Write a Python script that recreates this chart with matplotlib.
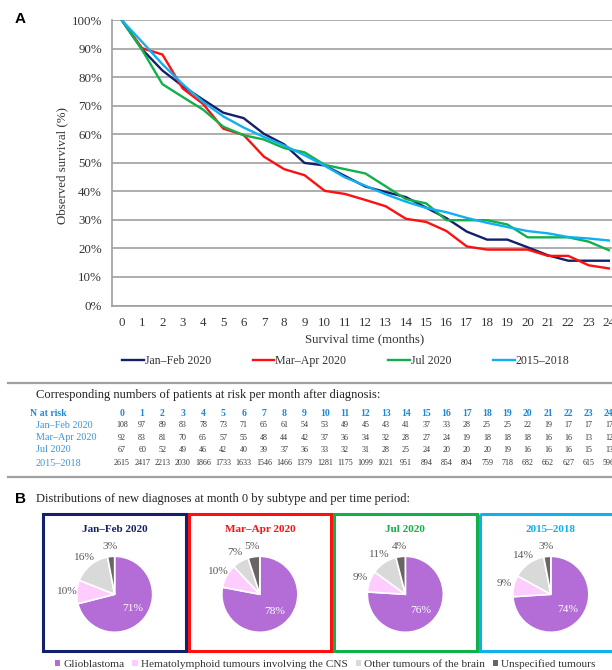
import math
import matplotlib
matplotlib.use('Agg')
import matplotlib.pyplot as plt
from matplotlib import transforms
from matplotlib.patches import Rectangle, Patch

# ---------------- data ----------------
months = list(range(25))
periods = ['Jan\u2013Feb 2020', 'Mar\u2013Apr 2020', 'Jul 2020', '2015\u20132018']

surv_jan_feb = [100, 89.8, 82.4, 76.9, 72.2, 67.6, 65.7, 60.2, 56.5, 50.0, 49.1, 45.4, 41.7,
                39.8, 38.0, 34.3, 30.6, 25.9, 23.1, 23.1, 20.4, 17.6, 15.7, 15.7, 15.7]
surv_mar_apr = [100, 90.2, 88.0, 76.1, 70.7, 62.0, 59.8, 52.2, 47.8, 45.7, 40.2, 39.1, 37.0,
                34.8, 30.4, 29.3, 26.1, 20.7, 19.6, 19.6, 19.6, 17.4, 17.4, 14.1, 13.0]
surv_jul = [100, 89.6, 77.6, 73.1, 68.7, 62.7, 59.7, 58.2, 55.2, 53.7, 49.3, 47.8, 46.3,
            41.8, 37.3, 35.8, 29.9, 29.9, 29.9, 28.4, 23.9, 23.9, 23.9, 22.4, 19.4]
surv_ref = [100, 92.4, 84.6, 77.6, 71.4, 66.3, 62.4, 59.1, 56.1, 52.7, 49.0, 44.9, 42.0,
            39.0, 36.4, 34.2, 32.7, 30.7, 29.0, 27.5, 26.1, 25.3, 24.0, 23.5, 22.8]

risk_jan_feb = [108, 97, 89, 83, 78, 73, 71, 65, 61, 54, 53, 49, 45, 43, 41, 37, 33, 28, 25, 25, 22, 19, 17, 17, 17]
risk_mar_apr = [92, 83, 81, 70, 65, 57, 55, 48, 44, 42, 37, 36, 34, 32, 28, 27, 24, 19, 18, 18, 18, 16, 16, 13, 12]
risk_jul = [67, 60, 52, 49, 46, 42, 40, 39, 37, 36, 33, 32, 31, 28, 25, 24, 20, 20, 20, 19, 16, 16, 16, 15, 13]
risk_ref = [2615, 2417, 2213, 2030, 1866, 1733, 1633, 1546, 1466, 1379, 1281, 1175, 1099, 1021, 951,
            894, 854, 804, 759, 718, 682, 662, 627, 615, 596]

subtypes = ['Glioblastoma', 'Hematolymphoid tumours involving the CNS',
            'Other tumours of the brain', 'Unspecified tumours']
dist_jan_feb = [71, 10, 16, 3]
dist_mar_apr = [78, 10, 7, 5]
dist_jul = [76, 9, 11, 4]
dist_ref = [74, 9, 14, 3]

# ---------------- style ----------------
period_colors = ['#14206b', '#ff1010', '#10b04a', '#10b0f0']
subtype_colors = ['#b46dd6', '#ffccff', '#d9d9d9', '#6b6464']
GRID = '#a0a0a0'
TXT = '#333333'
BLUE_H = '#1a8ad8'
BLUE_L = '#3a96dc'

W, H = 612, 670
plt.rcParams['font.family'] = ['Liberation Serif', 'DejaVu Serif']
fig = plt.figure(figsize=(W / 100, H / 100), dpi=100)


def rect(l, t, r, b):
    return [l / W, 1 - b / H, (r - l) / W, (b - t) / H]


# overlay in pixel coordinates for free text / frames
ov = fig.add_axes([0, 0, 1, 1])
ov.set_xlim(0, W)
ov.set_ylim(H, 0)
ov.axis('off')

# ---------------- panel A ----------------
ax = fig.add_axes(rect(111.7, 20.3, 619, 305.5))
series = [surv_jan_feb, surv_mar_apr, surv_jul, surv_ref]
handles = []
for s, c, lab in zip(series, period_colors, periods):
    h, = ax.plot(months, [v / 100 for v in s], color=c, lw=1.7, label=lab, solid_joinstyle='round')
    handles.append(h)
ax.set_xlim(-0.5, 24.5)
ax.set_ylim(0, 1)
ax.set_xticks(months)
ax.set_xticklabels([str(m) for m in months])
yt = [i / 10 for i in range(11)]
ax.set_yticks(yt)
ax.set_yticklabels([f'{int(round(v * 100))}%' for v in yt])
ax.yaxis.grid(True, color=GRID, lw=1.2)
ax.set_axisbelow(True)
for sp in ['top', 'right']:
    ax.spines[sp].set_visible(False)
for sp in ['left', 'bottom']:
    ax.spines[sp].set_color(GRID)
    ax.spines[sp].set_linewidth(1.2)
ax.tick_params(axis='y', length=0, pad=7, labelsize=9.3, labelcolor=TXT)
ax.tick_params(axis='x', length=0, pad=8, labelsize=9.3, labelcolor=TXT)

ov.text(62.5, 165, 'Observed survival (%)', rotation=90, ha='center', va='center', fontsize=9.3, color=TXT)
ov.text(365, 339, 'Survival time (months)', ha='center', va='center', fontsize=9.3, color=TXT)
ov.text(15, 19, 'A', ha='left', va='center', fontsize=11, fontweight='bold',
        family=['Liberation Sans', 'DejaVu Sans'])

fig.legend(handles=handles, loc='center left', bbox_to_anchor=(122 / W, 1 - 361 / H),
           ncol=4, frameon=False, fontsize=8.6, handlelength=1.8, handletextpad=0.1,
           columnspacing=3.5, borderpad=0, borderaxespad=0, labelcolor=TXT)

# ---------------- risk table ----------------
ov.plot([8, 612], [383, 383], color=GRID, lw=1.6)
ov.plot([8, 612], [477, 477], color=GRID, lw=1.6)
ov.text(36, 395, 'Corresponding numbers of patients at risk per month after diagnosis:',
        ha='left', va='center', fontsize=9, color='#222222')

trans = transforms.blended_transform_factory(ax.transData, ov.transData)
ov.text(30, 413, 'N at risk', ha='left', va='center', fontsize=7, fontweight='bold', color=BLUE_H)
for m in months:
    ov.text(m, 413, str(m), transform=trans, ha='center', va='center', fontsize=7,
            fontweight='bold', color=BLUE_H, clip_on=False)
rows = [risk_jan_feb, risk_mar_apr, risk_jul, risk_ref]
row_y = [425, 438, 450, 463]
for lab, vals, y in zip(periods, rows, row_y):
    ov.text(36, y, lab, ha='left', va='center', fontsize=7.3, color=BLUE_L)
    for m, v in zip(months, vals):
        ov.text(m, y, str(v), transform=trans, ha='center', va='center', fontsize=5.8,
                color=TXT, clip_on=False)

# ---------------- panel B ----------------
ov.text(15, 499, 'B', ha='left', va='center', fontsize=11, fontweight='bold',
        family=['Liberation Sans', 'DejaVu Sans'])
ov.text(36, 499, 'Distributions of new diagnoses at month 0 by subtype and per time period:',
        ha='left', va='center', fontsize=9, color='#222222')

dists = [dist_jan_feb, dist_mar_apr, dist_jul, dist_ref]
box_left = [43.3, 188.5, 334.0, 479.5]
box_w = 142.7
box_top, box_bot = 514.3, 651
pie_cy = 594.3
R = 38
for i in range(4):
    l = box_left[i]
    ov.add_patch(Rectangle((l, box_top), box_w, box_bot - box_top, fill=False,
                           edgecolor=period_colors[i], lw=2.2, clip_on=False))
    cx = l + box_w / 2
    ov.text(cx, 530, periods[i], ha='center', va='center', fontsize=8, fontweight='bold',
            color=period_colors[i])
    pax = fig.add_axes(rect(cx - R, pie_cy - R, cx + R, pie_cy + R))
    wedges, _ = pax.pie(dists[i], colors=subtype_colors, startangle=90, counterclock=False,
                        radius=1, wedgeprops=dict(edgecolor='white', linewidth=1.2))
    pax.set_xlim(-1, 1)
    pax.set_ylim(-1, 1)
    pax.set_aspect('equal')
    pax.axis('off')
    for j, (w, v) in enumerate(zip(wedges, dists[i])):
        ang = math.radians((w.theta1 + w.theta2) / 2)
        if j == 0:
            d, col = 0.6, 'white'
        else:
            d, col = 1.27, '#595959'
        pax.text(d * math.cos(ang), d * math.sin(ang), f'{v}%', ha='center', va='center',
                 fontsize=8.2, color=col, clip_on=False)

leg_handles = [Patch(facecolor=c, edgecolor='none') for c in subtype_colors]
fig.legend(handles=leg_handles, labels=subtypes, loc='center left',
           bbox_to_anchor=(55 / W, 1 - 664 / H), ncol=4, frameon=False, fontsize=8.1,
           handlelength=0.45, handleheight=0.45, handletextpad=0.3, columnspacing=0.7,
           borderpad=0, borderaxespad=0, labelcolor=TXT)

fig.savefig('out.png', dpi=100)
